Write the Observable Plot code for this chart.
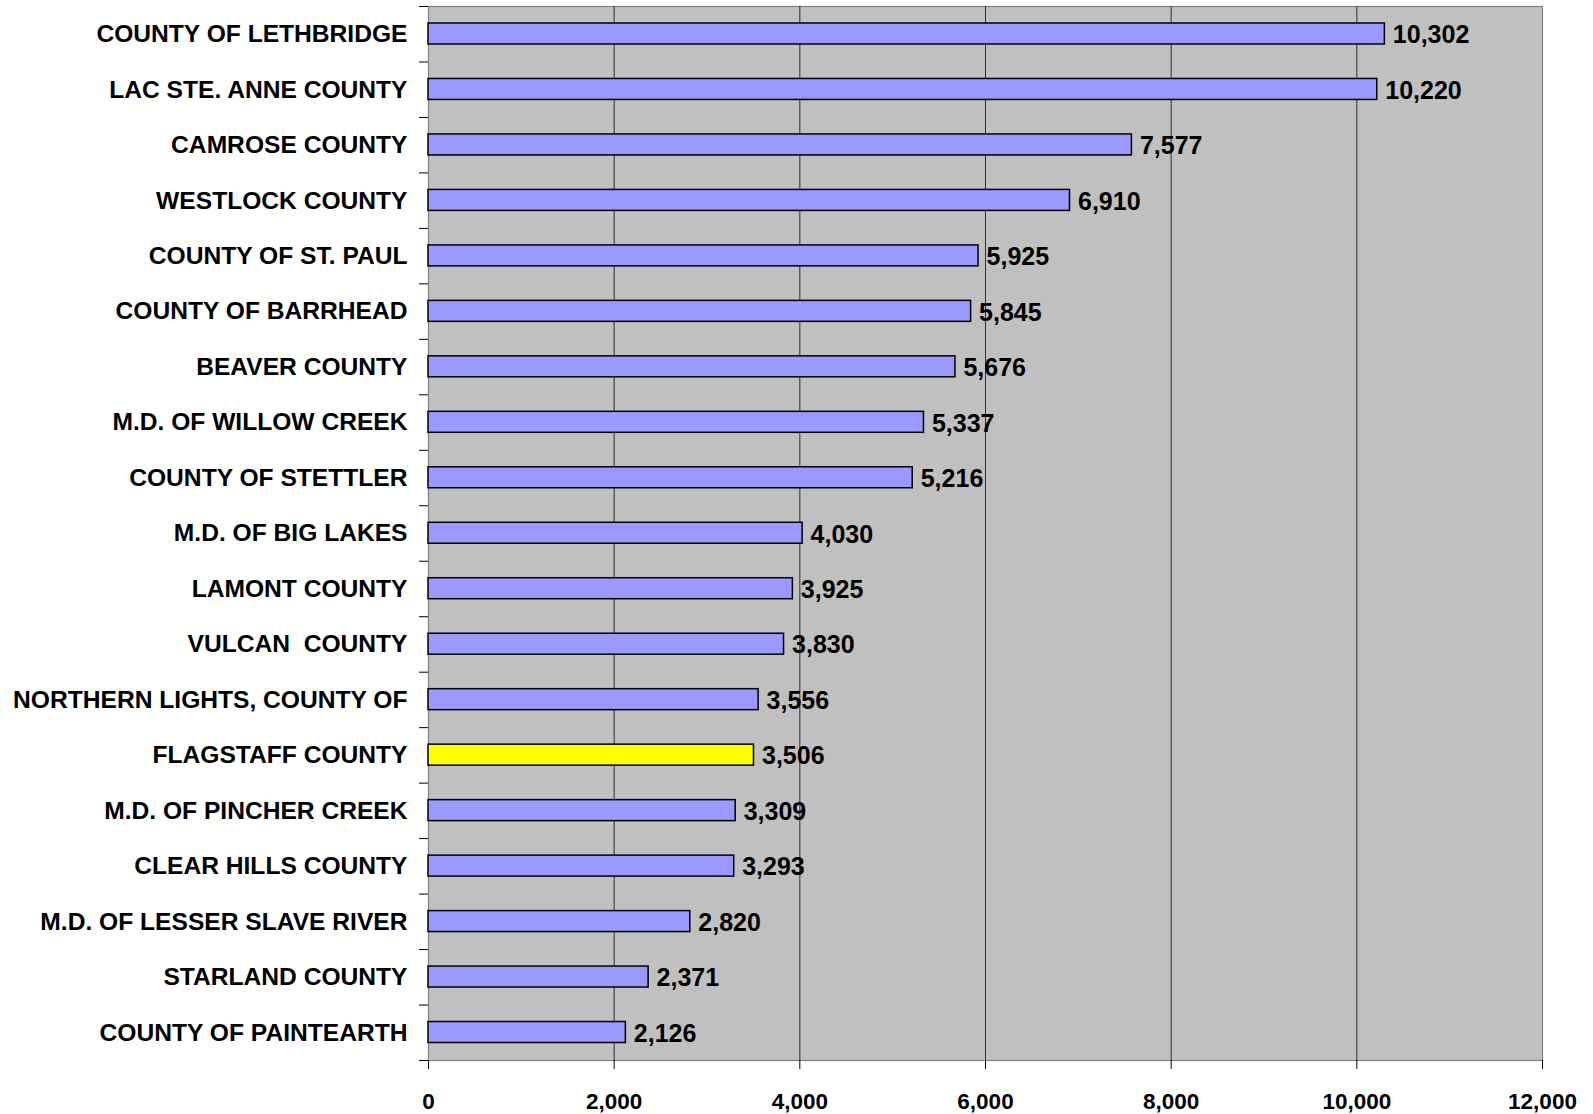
<!DOCTYPE html>
<html>
<head>
<meta charset="utf-8">
<script src="https://cdn.jsdelivr.net/npm/d3@7"></script>
<script src="https://cdn.jsdelivr.net/npm/@observablehq/plot@0.6"></script>
<style>
  html, body { margin: 0; padding: 0; background: #ffffff; }
  #chart svg { display: block; }
</style>
</head>
<body>
<div id="chart"></div>
<script>
const categories = [
  "COUNTY OF LETHBRIDGE",
  "LAC STE. ANNE COUNTY",
  "CAMROSE COUNTY",
  "WESTLOCK COUNTY",
  "COUNTY OF ST. PAUL",
  "COUNTY OF BARRHEAD",
  "BEAVER COUNTY",
  "M.D. OF WILLOW CREEK",
  "COUNTY OF STETTLER",
  "M.D. OF BIG LAKES",
  "LAMONT COUNTY",
  "VULCAN  COUNTY",
  "NORTHERN LIGHTS, COUNTY OF",
  "FLAGSTAFF COUNTY",
  "M.D. OF PINCHER CREEK",
  "CLEAR HILLS COUNTY",
  "M.D. OF LESSER SLAVE RIVER",
  "STARLAND COUNTY",
  "COUNTY OF PAINTEARTH"
];
const values = [10302, 10220, 7577, 6910, 5925, 5845, 5676, 5337, 5216, 4030, 3925, 3830, 3556, 3506, 3309, 3293, 2820, 2371, 2126];
const highlighted = ["FLAGSTAFF COUNTY"];
const xTicks = [0, 2000, 4000, 6000, 8000, 10000, 12000];
const gridTicks = [2000, 4000, 6000, 8000, 10000];

const data = categories.map((c, i) => ({name: c, value: values[i]}));

const W = 1593, H = 1114;
const mTop = 6, mBottom = 54, mLeft = 428, mRight = 51;
const step = (H - mTop - mBottom) / categories.length;
const font = "'Liberation Sans', Arial, Helvetica, sans-serif";
const fmt = d3.format(",");

const plot = Plot.plot({
  width: W,
  height: H,
  marginTop: mTop,
  marginBottom: mBottom,
  marginLeft: mLeft,
  marginRight: mRight,
  style: {fontFamily: font, fontWeight: "bold", color: "#000", background: "#fff", overflow: "visible"},
  x: {domain: [0, 12000]},
  y: {domain: categories, padding: 0, round: false},
  marks: [
    Plot.frame({fill: "#c0c0c0", stroke: "#808080", strokeWidth: 1.2}),
    Plot.ruleX(gridTicks, {stroke: "#303030", strokeWidth: 1}),
    Plot.barX(data, {
      x: "value",
      y: "name",
      insetTop: 17,
      insetBottom: 17.5,
      fill: d => highlighted.includes(d.name) ? "#ffff00" : "#9999ff",
      stroke: "#000",
      strokeWidth: 1.5
    }),
    Plot.text(data, {
      x: "value",
      y: "name",
      text: d => fmt(d.value),
      textAnchor: "start",
      dx: 8,
      dy: 1,
      fontSize: 25,
      fontWeight: "bold",
      fill: "#000"
    }),
    // category labels
    Plot.axisY({tickSize: 0, tickPadding: 21, fontSize: 24.6, fontWeight: "bold", label: null}),
    // boundary tick marks between categories
    Plot.axisY({tickSize: 9, dy: -step / 2, tickFormat: () => "", label: null, line: true}),
    Plot.axisY({ticks: [categories[categories.length - 1]], tickSize: 9, dy: step / 2, tickFormat: () => "", label: null}),
    Plot.axisX({ticks: xTicks, tickSize: 9, tickPadding: 24, fontSize: 22.5, fontWeight: "bold", tickFormat: fmt, label: null, line: true})
  ]
});

document.getElementById("chart").appendChild(plot);
</script>
</body>
</html>
